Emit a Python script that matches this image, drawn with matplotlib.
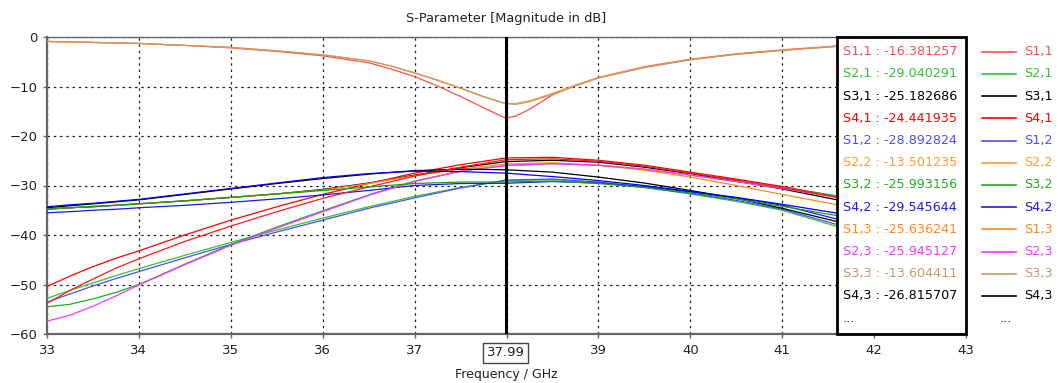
import matplotlib
matplotlib.use("Agg")
import matplotlib.pyplot as plt
from matplotlib.lines import Line2D
from matplotlib.patches import Rectangle

# frequency grids (GHz)
F_LO = [33, 33.25, 33.5, 33.75, 34, 34.5, 35, 35.5, 36, 36.5, 37, 37.5, 37.99,
        38.5, 39, 39.5, 40, 40.5, 41, 41.6]
F_HI = [33, 33.5, 34, 34.5, 35, 35.5, 36, 36.5, 36.75, 37, 37.25, 37.5, 37.75, 37.99,
        38.1, 38.25, 38.5, 38.75, 39, 39.5, 40, 40.5, 41, 41.6]

# reflection curves (dB)
S11 = [-0.9, -1.1, -1.3, -1.7, -2.2, -2.9, -3.8, -5.2, -6.5, -8.0, -9.9, -12.0, -14.3,
       -16.38, -16.0, -14.6, -11.7, -9.8, -8.2, -6.0, -4.5, -3.4, -2.6, -1.8]
S22 = [-0.9, -1.1, -1.3, -1.7, -2.1, -2.8, -3.6, -4.8, -5.9, -7.3, -8.8, -10.4, -12.1,
       -13.5, -13.45, -12.9, -11.4, -9.7, -8.2, -6.1, -4.6, -3.5, -2.7, -1.9]
S33 = [-0.9, -1.1, -1.3, -1.7, -2.1, -2.8, -3.6, -4.8, -5.9, -7.2, -8.7, -10.3, -12.0,
       -13.45, -13.6, -13.1, -11.6, -9.9, -8.3, -6.2, -4.6, -3.5, -2.7, -1.9]

# transmission curves (dB)
S21 = [-52.8, -51.2, -49.7, -48.2, -46.8, -44.1, -41.5, -39.0, -36.6, -34.3, -32.2, -30.4,
       -29.04, -28.8, -29.4, -30.4, -31.7, -33.2, -35.0, -38.3]
S12 = [-53.6, -51.9, -50.3, -48.8, -47.4, -44.6, -41.9, -39.4, -37.0, -34.6, -32.5, -30.5,
       -28.89, -28.7, -29.3, -30.3, -31.6, -33.0, -34.8, -37.9]
S31 = [-34.8, -34.5, -34.3, -34.0, -33.7, -33.1, -32.4, -31.7, -30.8, -29.5, -27.9, -26.4,
       -25.18, -24.9, -25.3, -26.3, -27.6, -29.1, -30.7, -32.9]
S41 = [-50.4, -48.3, -46.4, -44.7, -43.2, -40.0, -37.0, -34.3, -31.8, -29.6, -27.5, -25.8,
       -24.44, -24.3, -24.9, -25.9, -27.3, -28.7, -30.2, -32.2]
S32 = [-54.5, -54.0, -52.9, -51.6, -50.0, -45.9, -41.9, -38.4, -35.1, -31.9, -29.1, -27.1,
       -25.99, -25.6, -25.9, -26.7, -27.9, -29.2, -30.5, -32.1]
S42 = [-35.5, -35.3, -35.0, -34.8, -34.5, -34.0, -33.4, -32.7, -31.9, -31.0, -30.0, -29.6,
       -29.55, -29.2, -29.5, -30.2, -31.3, -32.5, -34.0, -36.8]
S13 = [-34.7, -34.5, -34.2, -34.0, -33.7, -33.1, -32.4, -31.7, -30.9, -29.6, -28.0, -26.7,
       -25.64, -25.4, -25.9, -26.9, -28.3, -30.0, -31.8, -33.9]
S23 = [-57.4, -56.2, -54.4, -52.3, -50.1, -46.0, -42.1, -38.6, -35.3, -32.0, -29.2, -27.1,
       -25.95, -25.6, -25.9, -26.7, -27.9, -29.2, -30.6, -32.4]
S43 = [-34.5, -34.1, -33.7, -33.3, -32.9, -31.8, -30.7, -29.6, -28.6, -27.7, -27.0, -26.7,
       -26.82, -27.3, -28.3, -29.5, -31.0, -32.6, -34.6, -37.3]
S14 = [-53.8, -51.2, -48.9, -46.7, -44.8, -41.3, -38.2, -35.3, -32.6, -30.3, -28.1, -26.3,
       -24.8, -24.6, -25.1, -26.1, -27.5, -28.9, -30.4, -32.4]
S24 = [-34.7, -34.5, -34.2, -34.0, -33.7, -33.1, -32.4, -31.7, -31.0, -30.3, -29.6, -29.3,
       -29.3, -29.1, -29.6, -30.4, -31.5, -32.7, -34.2, -36.1]
S34 = [-34.3, -33.9, -33.6, -33.2, -32.8, -31.7, -30.6, -29.5, -28.4, -27.6, -27.1, -27.2,
       -27.5, -28.2, -29.0, -30.0, -31.2, -32.4, -33.8, -35.6]

NAMES = ["S1,1", "S2,1", "S3,1", "S4,1", "S1,2", "S2,2", "S3,2", "S4,2",
         "S1,3", "S2,3", "S3,3", "S4,3", "S1,4", "S2,4", "S3,4"]
COLORS = ["#ff4d4d", "#33c233", "#000000", "#ff0000", "#4d4dff", "#ff9933",
          "#1fae1f", "#1a1aee", "#ff8a1f", "#ff33ff", "#c8996b", "#000000",
          "#ff1a1a", "#14a014", "#0000ff"]
SERIES = [(F_HI, S11), (F_LO, S21), (F_LO, S31), (F_LO, S41), (F_LO, S12), (F_HI, S22),
          (F_LO, S32), (F_LO, S42), (F_LO, S13), (F_LO, S23), (F_HI, S33), (F_LO, S43),
          (F_LO, S14), (F_LO, S24), (F_LO, S34)]

# marker readout at 37.99 GHz (first 12 listed)
MARKER_F = 37.99
MARKER_VALS = ["-16.381257", "-29.040291", "-25.182686", "-24.441935", "-28.892824",
               "-13.501235", "-25.993156", "-29.545644", "-25.636241", "-25.945127",
               "-13.604411", "-26.815707"]

XTICKS = [33, 34, 35, 36, 37, 38, 39, 40, 41, 42, 43]
YTICKS = [0, -10, -20, -30, -40, -50, -60]

W, H = 1058, 383
fig = plt.figure(figsize=(W / 100, H / 100), dpi=100)
L, R, T, B = 47, 966, 37, 334
ax = fig.add_axes([L / W, 1 - B / H, (R - L) / W, (B - T) / H])

FS = 9
BOX_FS = 9.2
plt.rcParams["font.family"] = "DejaVu Sans"

for (f, s), c in zip(SERIES, COLORS):
    ax.plot(f, s, color=c, lw=0.9, zorder=3)

ax.axvline(MARKER_F, color="black", lw=2.2, zorder=5)

ax.set_xlim(33, 43)
ax.set_ylim(-60, 0)
ax.set_xticks(XTICKS)
ax.set_xticklabels(["" if t == 38 else str(t) for t in XTICKS])
ax.set_yticks(YTICKS)
ax.set_axisbelow(True)
ax.grid(True, color="#222222", linestyle=(0, (2, 3)), lw=0.9)
ax.tick_params(direction="out", length=3, width=1, color="#666666",
               labelsize=FS + 0.5, labelcolor="#222222", pad=4)
for side in ["left", "bottom"]:
    ax.spines[side].set_color("#666666")
    ax.spines[side].set_linewidth(1.6)
ax.spines["top"].set_color("#666666")
ax.spines["top"].set_linewidth(1.0)
ax.spines["right"].set_visible(False)

ax.set_title("S-Parameter [Magnitude in dB]", fontsize=FS + 0.3, color="#222222", pad=11)
ax.set_xlabel("Frequency / GHz", fontsize=FS, color="#222222", labelpad=8)

ax.text(MARKER_F, -0.063, "37.99", transform=ax.get_xaxis_transform(),
        ha="center", va="center", fontsize=FS + 0.5, color="#222222",
        bbox=dict(boxstyle="square,pad=0.25", fc="white", ec="#444444", lw=1))

# marker readout box
ax.add_patch(Rectangle((41.6, -60), 1.4, 60, facecolor="white", edgecolor="black",
                       lw=2, zorder=6, clip_on=False))
for i, (name, val, c) in enumerate(zip(NAMES, MARKER_VALS, COLORS)):
    y = 1 - (51.7 + i * 22.2) / H
    fig.text(843 / W, y, f"{name} : {val}", color=c, fontsize=BOX_FS,
             ha="left", va="center", zorder=7)
    fig.add_artist(Line2D([982 / W, 1016 / W], [y, y], color=c, lw=1.2))
    fig.text(1024 / W, y, name, color=c, fontsize=BOX_FS, ha="left", va="center")
fig.text(843 / W, 1 - 318 / H, "...", fontsize=BOX_FS, color="#222222", va="center")
fig.text(1000 / W, 1 - 318 / H, "...", fontsize=BOX_FS, color="#222222", va="center")

fig.savefig("out.png", dpi=100)
